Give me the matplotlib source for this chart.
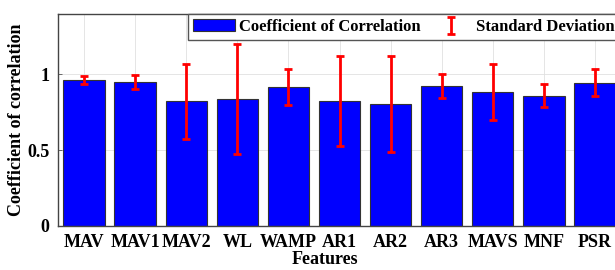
import matplotlib
matplotlib.use("Agg")
import matplotlib.pyplot as plt
import numpy as np

features = ["MAV", "MAV1", "MAV2", "WL", "WAMP", "AR1", "AR2", "AR3", "MAVS", "MNF", "PSR"]
corr = [0.960, 0.947, 0.822, 0.836, 0.912, 0.824, 0.800, 0.923, 0.882, 0.857, 0.943]
std = [0.028, 0.046, 0.247, 0.364, 0.118, 0.296, 0.316, 0.078, 0.187, 0.076, 0.087]

plt.rcParams['font.family'] = ['Liberation Serif', 'DejaVu Serif']
plt.rcParams['font.weight'] = 'bold'

fig = plt.figure(figsize=(6.15, 2.7), dpi=100)
ax = fig.add_axes([58/615, 1-226/270, (621-58)/615, (226-14)/270])

x = np.arange(len(features))
ax.bar(x, corr, width=0.81, color='#0000ff', edgecolor='#333333', linewidth=0.8,
       label='Coefficient of Correlation', zorder=2)
ax.errorbar(x, corr, yerr=std, fmt='none', ecolor='#ff0000', elinewidth=2.0,
            capsize=3.2, capthick=2.0, label='Standard Deviation', zorder=3)

ax.set_xlim(-0.51, 10.51)
ax.set_ylim(0, 1.395)
ax.set_xticks(x)
ax.set_xticklabels(features, fontsize=13, fontweight='bold')
ax.set_yticks([0, 0.5, 1])
ax.set_yticklabels(['0', '0.5', '1'], fontsize=13, fontweight='bold')
ax.tick_params(direction='in', length=3, width=0.6, color='#555555', pad=6)
ax.grid(True, color='#e0e0e0', linewidth=0.6, zorder=0)
ax.set_axisbelow(True)
for s in ax.spines.values():
    s.set_color('#444444')
    s.set_linewidth(1.0)

ax.set_xlabel('Features', fontsize=13, fontweight='bold')
ax.xaxis.set_label_coords((325-58)/563, -0.118)
ax.set_ylabel('Coefficient of correlation', fontsize=13, fontweight='bold')
ax.yaxis.set_label_coords(-0.058, 0.5)

leg = ax.legend(loc='upper left', bbox_to_anchor=((188-58)/563, 1.0), ncol=2,
                frameon=True, fancybox=False, edgecolor='#555555', framealpha=1,
                borderaxespad=0, prop={'family': 'Liberation Serif', 'weight': 'bold', 'size': 12},
                handlelength=2.5, handletextpad=0.25, columnspacing=0.6,
                borderpad=0.3)
leg.get_frame().set_linewidth(1.0)

fig.savefig('out.png', dpi=100)
